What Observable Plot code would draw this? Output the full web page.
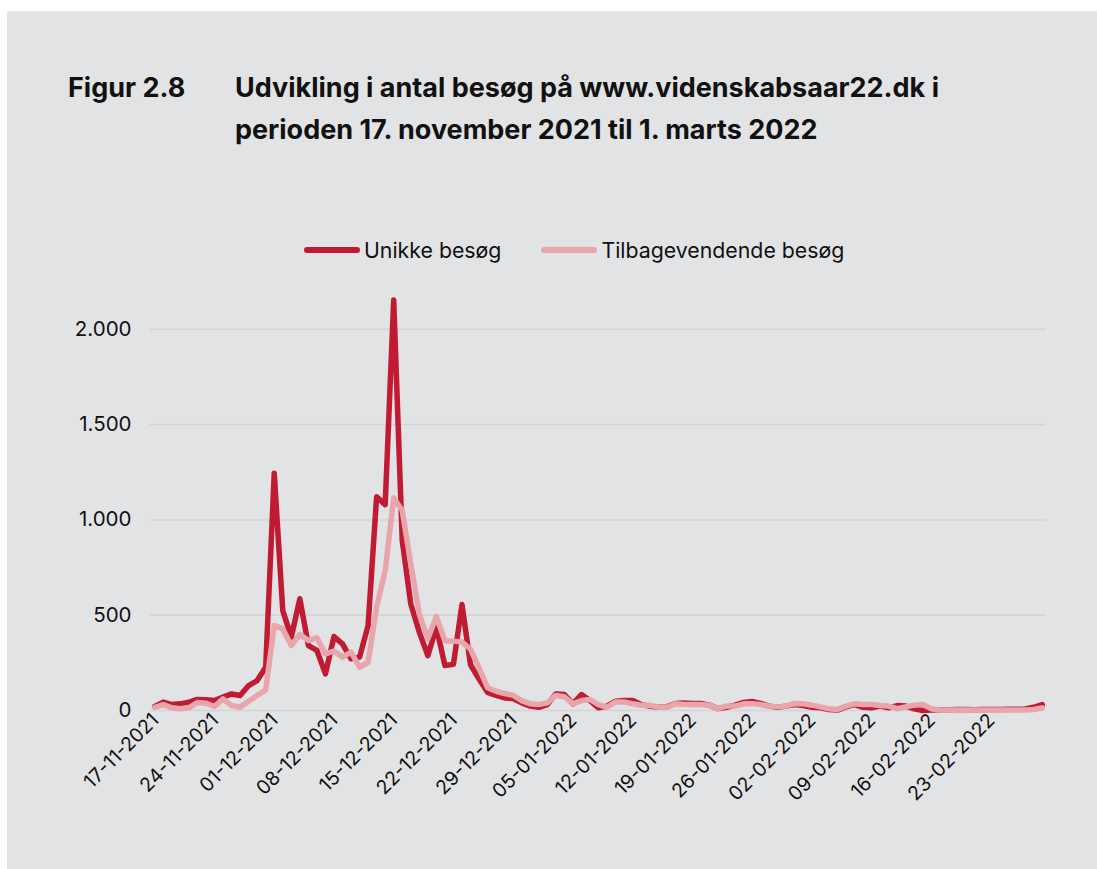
<!DOCTYPE html>
<html>
<head>
<meta charset="utf-8">
<script src="https://cdn.jsdelivr.net/npm/d3@7"></script>
<script src="https://cdn.jsdelivr.net/npm/@observablehq/plot@0.6"></script>
<style>
  body { margin:0; background:#ffffff; font-family: Inter, "Noto Sans", sans-serif; width:1097px; height:869px; overflow:hidden; position:relative; }
  #panel { position:absolute; left:7px; top:11px; width:1090px; height:858px; background:#e2e3e5; }
  .title { position:absolute; font-weight:700; font-size:27px; line-height:42px; color:#111; white-space:nowrap; }
  #legend { position:absolute; top:237px; left:304px; display:flex; align-items:center; font-size:21.3px; color:#111; white-space:nowrap; }
  .sw { display:inline-block; width:56px; height:5.5px; border-radius:3px; margin-right:4px; }
  #chart { position:absolute; left:0; top:200px; }
</style>
</head>
<body>
<div id="panel"></div>
<div class="title" style="left:68px; top:67px;">Figur 2.8</div>
<div class="title" style="left:235px; top:67px;">Udvikling i antal besøg på www.videnskabsaar22.dk i<br>perioden 17. november 2021 til 1. marts 2022</div>
<div id="legend">
  <span class="sw" style="background:#c01b32"></span><span>Unikke besøg</span>
  <span class="sw" style="background:#e8a5ab; margin-left:40px"></span><span>Tilbagevendende besøg</span>
</div>
<div id="chart"></div>
<script>
const startDate = "2021-11-17";
const seriesNames = ["Unikke besøg", "Tilbagevendende besøg"];
const unikke = [21,44,31,35,44,58,56,52,70,87,79,131,157,227,1245,524,385,586,341,315,192,388,350,271,280,446,1122,1080,2154,892,559,411,288,437,236,242,556,240,165,95,79,66,63,40,23,17,31,87,84,35,84,52,14,23,49,52,52,31,23,17,19,37,40,37,37,28,10,17,28,42,47,37,23,17,23,31,26,17,14,5,2,19,31,17,14,23,14,26,23,9,0,2,4,4,5,5,4,5,5,5,6,6,8,17,31];
const tilbage = [17,31,14,9,14,42,38,21,61,26,17,49,79,108,446,428,341,399,367,381,297,311,280,306,227,253,542,734,1115,1049,769,507,376,493,366,364,359,322,224,120,101,89,80,52,35,31,40,79,72,35,52,58,31,17,45,45,35,28,28,17,17,35,31,31,31,28,10,23,23,35,36,31,23,19,23,37,35,28,19,9,5,23,35,31,31,26,23,10,19,28,31,9,3,2,2,2,2,2,2,3,3,3,3,5,14];
const tickLabels = ["17-11-2021","24-11-2021","01-12-2021","08-12-2021","15-12-2021","22-12-2021","29-12-2021","05-01-2022","12-01-2022","19-01-2022","26-01-2022","02-02-2022","09-02-2022","16-02-2022","23-02-2022"];
const yTicks = [0, 500, 1000, 1500, 2000];
const colors = ["#c01b32", "#e8a5ab"];

const start = d3.utcParse("%Y-%m-%d")(startDate);
const parseTick = d3.utcParse("%d-%m-%Y");
const rows = [];
unikke.forEach((v, i) => rows.push({date: d3.utcDay.offset(start, i), value: v, series: seriesNames[0]}));
tilbage.forEach((v, i) => rows.push({date: d3.utcDay.offset(start, i), value: v, series: seriesNames[1]}));
const ticks = tickLabels.map(t => ({date: parseTick(t), label: t}));
const endDate = d3.utcDay.offset(start, unikke.length - 1);
const fmt = d3.formatLocale({decimal: ",", thousands: ".", grouping: [3], currency: ["", " kr"]}).format(",d");

const chart = Plot.plot({
  width: 1097,
  height: 669,
  marginLeft: 150,
  marginRight: 51,
  marginTop: 33.5,
  marginBottom: 159,
  style: {fontFamily: "Inter, 'Noto Sans', sans-serif", fontSize: "19px", color: "#111", background: "transparent", overflow: "visible"},
  x: {type: "utc", domain: [d3.utcHour.offset(start, -12), d3.utcHour.offset(endDate, 12)], axis: null},
  y: {domain: [0, 2500], axis: null},
  color: {domain: seriesNames, range: colors},
  marks: [
    Plot.ruleY(yTicks, {stroke: "#d3d4d6", strokeWidth: 1.5}),
    Plot.text(yTicks, {frameAnchor: "left", y: d => d, text: d => fmt(d), textAnchor: "end", dx: -19, fill: "#111", fontSize: 20.5}),
    Plot.line(rows.filter(r => r.series === seriesNames[0]), {x: "date", y: "value", stroke: colors[0], strokeWidth: 5.5, strokeLinejoin: "round", strokeLinecap: "round"}),
    Plot.line(rows.filter(r => r.series === seriesNames[1]), {x: "date", y: "value", stroke: colors[1], strokeWidth: 5.5, strokeLinejoin: "round", strokeLinecap: "round"}),
    Plot.text(ticks, {x: "date", frameAnchor: "bottom", text: "label", rotate: -45, textAnchor: "end", dx: 5, dy: 11, fill: "#111", fontSize: 19.5})
  ]
});
document.getElementById("chart").appendChild(chart);
</script>
</body>
</html>
